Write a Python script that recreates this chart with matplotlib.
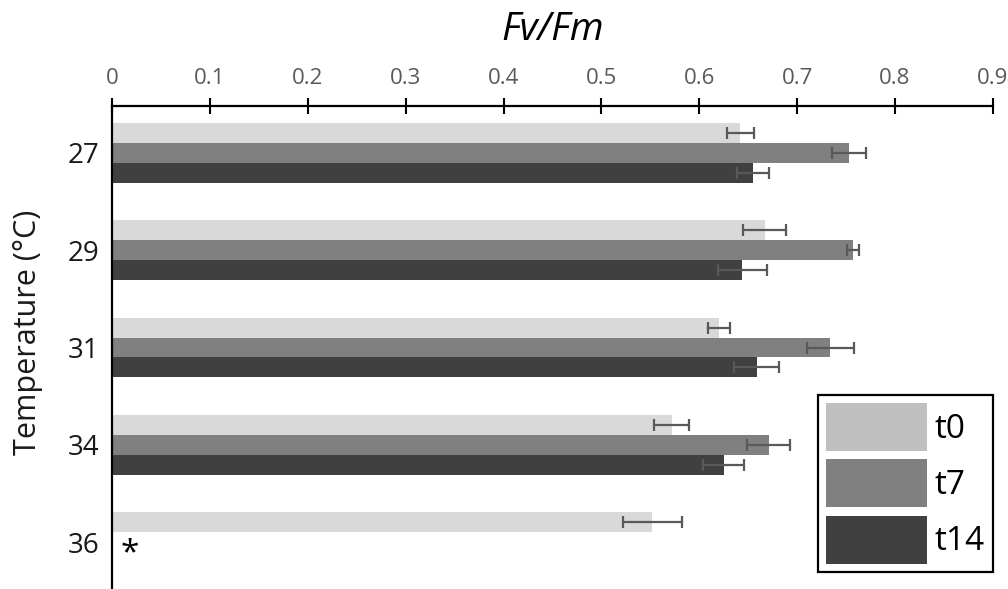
import numpy as np
import matplotlib
matplotlib.use("Agg")
import matplotlib.pyplot as plt
from matplotlib.patches import Patch

plt.rcParams['font.family'] = ['Open Sans', 'DejaVu Sans']

temps = ['27', '29', '31', '34', '36']
series = ['t0', 't7', 't14']

# Fv/Fm means (36 °C only measured at t0)
t0_vals = [0.642, 0.667, 0.620, 0.572, 0.552]
t7_vals = [0.753, 0.757, 0.734, 0.671]
t14_vals = [0.655, 0.644, 0.659, 0.625]

t0_err = [0.014, 0.022, 0.011, 0.018, 0.030]
t7_err = [0.017, 0.006, 0.024, 0.022]
t14_err = [0.016, 0.025, 0.023, 0.021]

bar_colors = ['#d9d9d9', '#808080', '#404040']
legend_colors = ['#bfbfbf', '#808080', '#404040']
err_color = '#595959'

fig = plt.figure(figsize=(10.08, 5.89), dpi=100)
ax = fig.add_axes([0.1113, 0.0, 0.8736, 0.82])

h = 0.205
ys = np.arange(len(temps))
data = [(t0_vals, t0_err), (t7_vals, t7_err), (t14_vals, t14_err)]
for k, (vals, errs) in enumerate(data):
    y = ys[:len(vals)] + (k - 1) * h
    ax.barh(y, vals, height=h, color=bar_colors[k], zorder=2)
    ax.errorbar(vals, y, xerr=errs, fmt='none', ecolor=err_color,
                elinewidth=1.6, capsize=4, capthick=1.6, zorder=3)

ax.set_xlim(0, 0.9)
ax.set_ylim(4.483, -0.483)

ax.xaxis.tick_top()
ax.set_xticks(np.arange(0, 0.91, 0.1))
ax.set_xticklabels(['0'] + ['%.1f' % v for v in np.arange(0.1, 0.91, 0.1)])
ax.tick_params(axis='x', direction='inout', length=11, width=1.5,
               labelsize=16, labelcolor='#595959', pad=7)
ax.set_yticks(ys)
ax.set_yticklabels(temps)
ax.tick_params(axis='y', length=0, labelsize=20, labelcolor='#1a1a1a', pad=9)

for s in ['right', 'bottom']:
    ax.spines[s].set_visible(False)
for s in ['top', 'left']:
    ax.spines[s].set_linewidth(1.6)

fig.text(553 / 1008, 1 - 30 / 589, 'Fv/Fm', fontsize=28, style='italic',
         ha='center', va='center')
ax.set_ylabel('Temperature (°C)', fontsize=22, color='#1a1a1a')
ax.yaxis.set_label_coords(-0.079, 0.532)

ax.text(0.018, 4.12, '*', fontsize=24, ha='center', va='center')

handles = [Patch(facecolor=c, edgecolor='none') for c in legend_colors]
leg = ax.legend(handles, series, loc='lower right',
                bbox_to_anchor=(1.0, 17 / 483), borderaxespad=0,
                fontsize=24, handlelength=3.03, handleheight=1.84,
                labelspacing=0.25, borderpad=0.25, handletextpad=0.22,
                fancybox=False, framealpha=1, edgecolor='black')
leg.get_frame().set_linewidth(1.6)

fig.savefig('out.png', dpi=100)
